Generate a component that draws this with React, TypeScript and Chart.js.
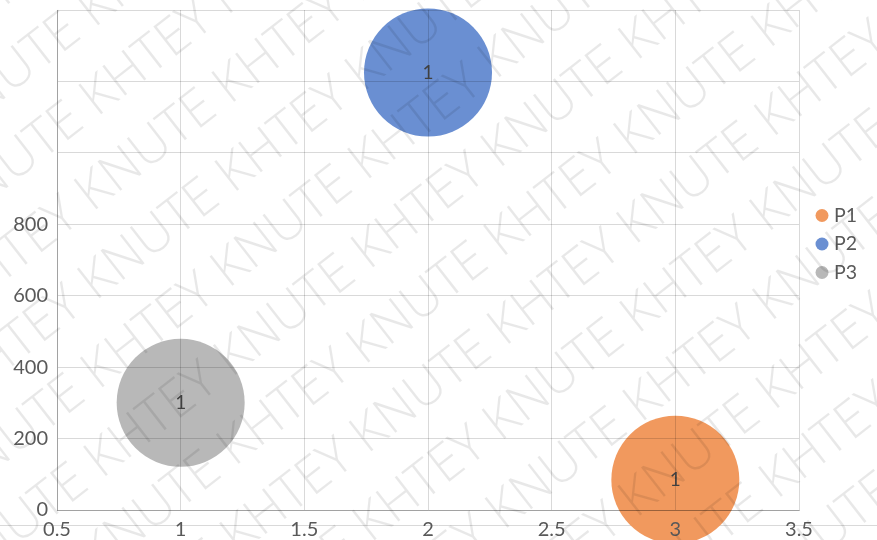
import React, { useEffect, useRef } from "react";
import { Chart, registerables } from "chart.js";

Chart.register(...registerables);

// ---- data ----
const seriesNames = ["P1", "P2", "P3"];
const xValues = [3, 2, 1];
const yValues = [85, 1225, 300];
const bubbleSizes = [1, 1, 1];
const seriesColors = ["#F1995E", "#6A8FD2", "#B8B8B8"];
const xTickValues = [0.5, 1, 1.5, 2, 2.5, 3, 3.5];
const yTickValues = [0, 200, 400, 600, 800, 1000, 1200, 1400];
const yLabelledTicks = ["0", "200", "400", "600", "800"];
const watermarkWords = ["KHTEY", "KNUTE"];

const FONT = "Lato, 'Noto Sans', sans-serif";
const BUBBLE_PX_PER_SIZE = 64;

const backgroundPlugin = {
  id: "bgPlugin",
  beforeDraw(chart: any) {
    const ctx = chart.ctx;
    ctx.save();
    ctx.fillStyle = "#ffffff";
    ctx.fillRect(0, 0, chart.width, chart.height);
    ctx.strokeStyle = "#D9D9D9";
    ctx.lineWidth = 1;
    ctx.beginPath();
    ctx.moveTo(0, 525.5);
    ctx.lineTo(chart.width, 525.5);
    ctx.stroke();
    ctx.restore();
  },
};

const dataLabelPlugin = {
  id: "dataLabels",
  afterDraw(chart: any) {
    const ctx = chart.ctx;
    ctx.save();
    ctx.font = `19px ${FONT}`;
    ctx.fillStyle = "#404040";
    ctx.textAlign = "center";
    ctx.textBaseline = "middle";
    chart.data.datasets.forEach((ds: any, i: number) => {
      const meta = chart.getDatasetMeta(i);
      meta.data.forEach((el: any, j: number) => {
        ctx.fillText(String(ds.sizes[j]), el.x, el.y);
      });
    });
    ctx.restore();
  },
};

const legendPlugin = {
  id: "customLegend",
  afterDraw(chart: any) {
    const ctx = chart.ctx;
    const area = chart.chartArea;
    ctx.save();
    ctx.font = `19.5px ${FONT}`;
    ctx.textBaseline = "middle";
    ctx.textAlign = "left";
    const n = chart.data.datasets.length;
    const step = 28.5;
    const cy = 244;
    chart.data.datasets.forEach((ds: any, i: number) => {
      const y = cy + (i - (n - 1) / 2) * step;
      const x = area.right + 23;
      ctx.fillStyle = seriesColors[i];
      ctx.beginPath();
      ctx.arc(x, y, 6.5, 0, Math.PI * 2);
      ctx.fill();
      ctx.fillStyle = "#595959";
      ctx.fillText(ds.label, x + 12, y);
    });
    ctx.restore();
  },
};

const watermarkPlugin = {
  id: "watermark",
  afterDraw(chart: any) {
    const ctx = chart.ctx;
    ctx.save();
    ctx.font = `300 52px 'Open Sans', 'Liberation Sans', sans-serif`;
    ctx.fillStyle = "rgba(0,0,0,0.09)";
    ctx.textBaseline = "middle";
    ctx.translate(0, chart.height);
    ctx.rotate((-38 * Math.PI) / 180);
    const line = Array.from({ length: 16 }, (_, k) => watermarkWords[k % 2]).join(" ");
    const wordShift = ctx.measureText(watermarkWords[0] + " ").width;
    for (let row = -12; row < 14; row++) {
      const y = row * 72;
      const x0 = -900 + (row % 2 === 0 ? 0 : wordShift / 2) + row * 30;
      ctx.fillText(line, x0, y);
    }
    ctx.restore();
  },
};

const gridColor = "rgba(0,0,0,0.15)";

export default function App() {
  const canvasRef = useRef<HTMLCanvasElement | null>(null);

  useEffect(() => {
    const canvas = canvasRef.current;
    if (!canvas) return;
    const datasets = seriesNames.map((name, i) => ({
      label: name,
      data: [{ x: xValues[i], y: yValues[i], r: bubbleSizes[i] * BUBBLE_PX_PER_SIZE }],
      sizes: [bubbleSizes[i]],
      backgroundColor: seriesColors[i],
      borderWidth: 0,
      hoverRadius: 0,
    }));

    const chart = new Chart(canvas, {
      type: "bubble",
      data: { datasets } as any,
      options: {
        animation: false,
        responsive: false,
        clip: false as any,
        layout: { autoPadding: false, padding: { top: 10, right: 78, left: 0, bottom: 0 } } as any,
        plugins: {
          legend: { display: false },
          tooltip: { enabled: false },
        },
        scales: {
          x: {
            type: "linear",
            min: xTickValues[0],
            max: xTickValues[xTickValues.length - 1],
            afterBuildTicks: (scale: any) => {
              scale.ticks = xTickValues.map((v) => ({ value: v }));
            },
            afterFit: (scale: any) => {
              scale.height = 30;
              scale.paddingLeft = 0;
              scale.paddingRight = 0;
            },
            ticks: {
              z: 1,
              font: { family: FONT, size: 20 },
              color: "#595959",
              padding: 8,
              maxRotation: 0,
              autoSkip: false,
              callback: (v: any) => String(v),
            },
            grid: { z: 1, color: gridColor, drawTicks: false, lineWidth: 1 },
            border: { z: 1, color: "rgba(0,0,0,0.25)", width: 1 },
          } as any,
          y: {
            type: "linear",
            min: yTickValues[0],
            max: yTickValues[yTickValues.length - 1],
            afterBuildTicks: (scale: any) => {
              scale.ticks = yTickValues.map((v) => ({ value: v }));
            },
            afterFit: (scale: any) => {
              scale.width = 57;
              scale.paddingTop = 0;
              scale.paddingBottom = 0;
            },
            ticks: {
              z: 1,
              font: { family: FONT, size: 20 },
              color: "#595959",
              padding: 9,
              autoSkip: false,
              callback: (v: any, idx: number) => (idx < yLabelledTicks.length ? yLabelledTicks[idx] : ""),
            },
            grid: { z: 1, color: gridColor, drawTicks: false, lineWidth: 1 },
            border: { z: 1, color: "rgba(0,0,0,0.25)", width: 1 },
          } as any,
        },
      },
      plugins: [backgroundPlugin, dataLabelPlugin, legendPlugin, watermarkPlugin],
    });
    return () => chart.destroy();
  }, []);

  return (
    <div style={{ position: "absolute", left: 0, top: 0, width: 877, height: 540 }}>
      <canvas ref={canvasRef} width={877} height={540} />
    </div>
  );
}
